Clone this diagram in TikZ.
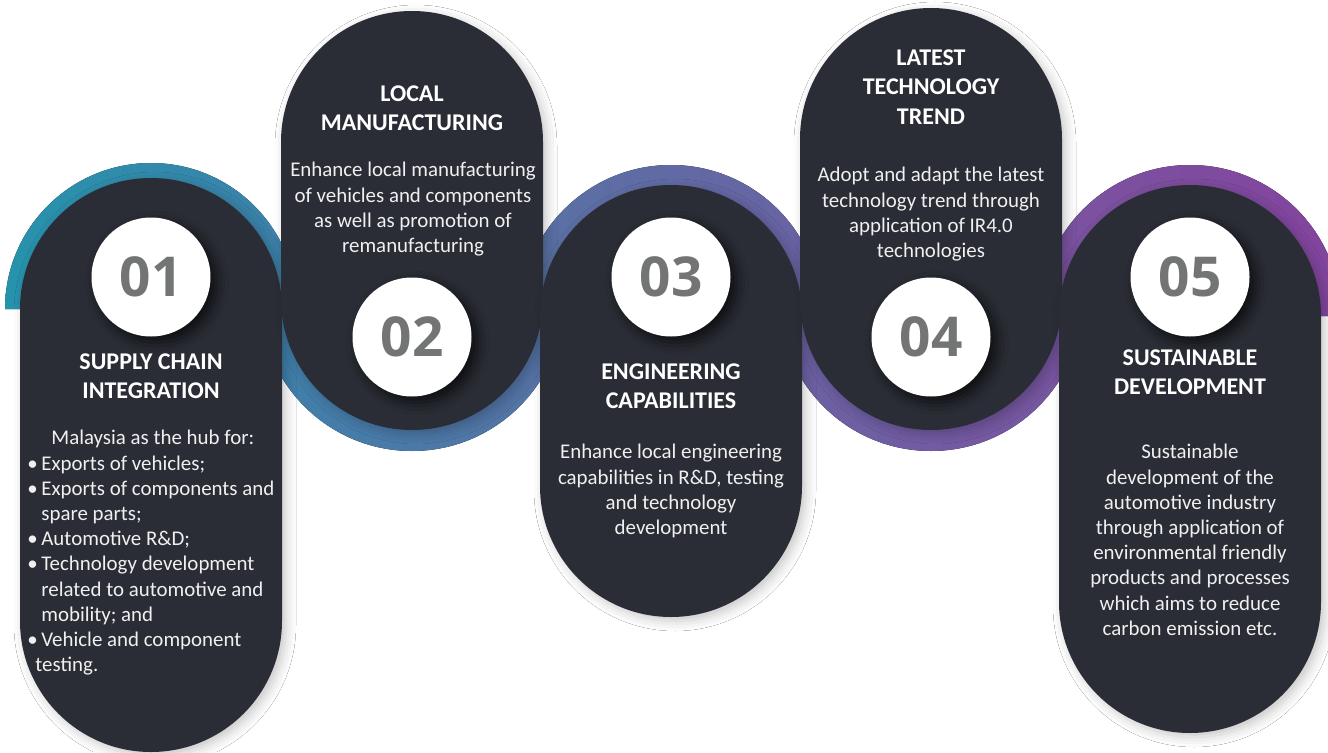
\documentclass[tikz,border=0pt]{standalone}
\usepackage{fontspec}
\setmainfont{Carlito}
\newfontfamily\numfont{Open Sans}
\usepackage{tikz}
\usetikzlibrary{shadows.blur}
\definecolor{capsule}{RGB}{43,45,54}
\definecolor{numgray}{RGB}{115,116,116}
\definecolor{bodywhite}{RGB}{240,240,240}
\definecolor{ringA}{RGB}{38,147,172}
\definecolor{ringB}{RGB}{62,128,170}
\definecolor{ringC}{RGB}{88,114,165}
\definecolor{ringD}{RGB}{106,98,163}
\definecolor{ringE}{RGB}{121,84,160}
\definecolor{ringF}{RGB}{131,68,158}
% capsule: centre x, top y, bottom y
\newcommand{\drawcapsule}[3]{
  \fill[capsule, blur shadow={shadow xshift=2pt, shadow yshift=-2pt, shadow blur radius=5pt, shadow opacity=22}]
    (#1-131,#2-131) arc[start angle=180, end angle=0, radius=131] -- (#1+131,#3+131)
    arc[start angle=0, end angle=-180, radius=131] -- cycle;
}
% ring halves: centre x, centre y, radius, left colour, right colour
\newcommand{\drawringtop}[5]{
  \fill[left color=#4, right color=#5] (#1-#3,#2) arc[start angle=180, end angle=0, radius=#3] -- cycle;
}
\newcommand{\drawringbottom}[5]{
  \fill[left color=#4, right color=#5] (#1-#3,#2) arc[start angle=180, end angle=360, radius=#3] -- cycle;
}
\newcommand{\listbullet}{\makebox[7pt][l]{\textbullet}}

\begin{document}
\begin{tikzpicture}[x=0.5pt, y=0.5pt,
  title/.style={text=white, align=center, anchor=north, inner sep=0pt, font=\bfseries\fontsize{12}{14.75}\selectfont},
  body/.style={text=bodywhite, align=center, anchor=north, inner sep=0pt, font=\fontsize{10.45}{12.6}\selectfont},
  numcircle/.style={circle, fill=white, minimum size=59.5pt, inner sep=0pt, text=numgray,
    font=\numfont\bfseries\fontsize{27.5}{30}\selectfont,
    blur shadow={shadow xshift=3pt, shadow yshift=-3pt, shadow blur radius=6pt, shadow opacity=70}}]
\useasboundingbox (0,0) rectangle (1328,752);
\fill[white] (0,0) rectangle (1328,752);

% coloured half rings behind the capsules
\drawringtop{151}{443}{146}{ringA}{ringB}
\drawringbottom{412}{453}{152}{ringB}{ringC}
\drawringtop{671}{436}{151}{ringC}{ringD}
\drawringbottom{931}{453}{152}{ringD}{ringE}
\drawringtop{1190}{436}{151}{ringE}{ringF}

% capsules
\foreach \cx/\ya/\yb in {151/574/0, 412/741/322, 671/567/135, 931/744/322, 1190/567/19}{
  \drawcapsule{\cx}{\ya}{\yb}
}

% numbers
\node[numcircle] (n1) at (151,475) {01};
\node[numcircle] (n2) at (412,415) {02};
\node[numcircle] (n3) at (671,475) {03};
\node[numcircle] (n4) at (931,415) {04};
\node[numcircle] (n5) at (1190,475) {05};

% titles
\node[title] (t1) at (151,399) {SUPPLY CHAIN\\INTEGRATION};
\node[title] (t2) at (412,667) {LOCAL\\MANUFACTURING};
\node[title] (t3) at (671,389) {ENGINEERING\\CAPABILITIES};
\node[title] (t4) at (931,703) {LATEST\\TECHNOLOGY\\TREND};
\node[title] (t5) at (1190,403) {SUSTAINABLE\\DEVELOPMENT};

% texts
\node[body, align=left, anchor=north west] (b1) at (27,322) {\hspace*{12pt}Malaysia as the hub for:\\
  \listbullet Exports of vehicles;\\
  \listbullet Exports of components and\\
  \hspace*{7pt}spare parts;\\
  \listbullet Automotive R\&D;\\
  \listbullet Technology development\\
  \hspace*{7pt}related to automotive and\\
  \hspace*{7pt}mobility; and\\
  \listbullet Vehicle and component\\
  \hspace*{4pt}testing.};
\node[body] (b2) at (413,590) {Enhance local manufacturing\\of vehicles and components\\as well as promotion of\\remanufacturing};
\node[body] (b3) at (671,308) {Enhance local engineering\\capabilities in R\&D, testing\\and technology\\development};
\node[body] (b4) at (931,585) {Adopt and adapt the latest\\technology trend through\\application of IR4.0\\technologies};
\node[body] (b5) at (1190,308) {Sustainable\\development of the\\automotive industry\\through application of\\environmental friendly\\products and processes\\which aims to reduce\\carbon emission etc.};
\end{tikzpicture}
\end{document}
